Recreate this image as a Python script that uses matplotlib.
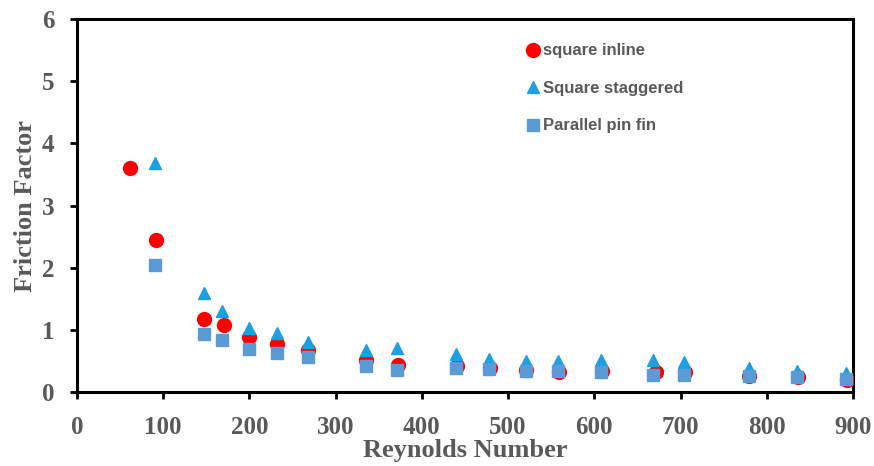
import matplotlib
matplotlib.use("Agg")
import matplotlib.pyplot as plt

# Reynolds number / friction factor
re_inline = [61, 92, 147, 170, 199, 232, 268, 335, 372, 441, 479, 521, 559, 609, 671, 705, 779, 836, 893]
f_inline = [3.60, 2.45, 1.17, 1.07, 0.89, 0.77, 0.67, 0.51, 0.44, 0.42, 0.38, 0.35, 0.32, 0.34, 0.32, 0.32, 0.26, 0.24, 0.19]

re_stag = [91, 147, 168, 199, 232, 268, 335, 371, 440, 478, 521, 558, 608, 668, 704, 779, 835, 892]
f_stag = [3.68, 1.59, 1.31, 1.03, 0.95, 0.80, 0.67, 0.70, 0.61, 0.53, 0.50, 0.50, 0.51, 0.51, 0.48, 0.38, 0.34, 0.30]

re_par = [91, 147, 168, 199, 232, 268, 335, 371, 440, 478, 521, 558, 608, 668, 704, 779, 835, 892]
f_par = [2.05, 0.94, 0.83, 0.69, 0.62, 0.56, 0.42, 0.36, 0.38, 0.37, 0.34, 0.34, 0.32, 0.27, 0.28, 0.26, 0.24, 0.21]

grey = '#595959'

fig = plt.figure(figsize=(8.74, 4.66), dpi=100)
ax = fig.add_axes([0.088, 0.159, 0.888, 0.80])

ax.plot(re_inline, f_inline, 'o', color='#ff0000', markersize=10, label='square inline', zorder=3)
ax.plot(re_stag, f_stag, '^', color='#1c9fe3', markersize=9, label='Square staggered', zorder=3)
ax.plot(re_par, f_par, 's', color='#5b9bd5', markersize=8, label='Parallel pin fin', zorder=4)

ax.set_xlim(0, 900)
ax.set_ylim(0, 6)
ax.set_xticks(range(0, 1000, 100))
ax.set_yticks(range(0, 7))

for s in ax.spines.values():
    s.set_linewidth(2.2)
    s.set_color('black')

ax.tick_params(direction='out', length=5, width=2, colors='black', labelcolor=grey)
ax.tick_params(axis='x', pad=12)
ax.tick_params(axis='y', pad=11)
for lbl in ax.get_xticklabels() + ax.get_yticklabels():
    lbl.set_family('Liberation Serif')
    lbl.set_fontweight('bold')
    lbl.set_fontsize(18)

ax.set_xlabel('Reynolds Number', family='Liberation Serif', fontweight='bold',
              fontsize=19, color=grey, labelpad=0)
ax.set_ylabel('Friction Factor', family='Liberation Serif', fontweight='bold',
              fontsize=19, color=grey, labelpad=4)

leg = ax.legend(loc='upper left', bbox_to_anchor=(0.555, 0.975), frameon=False,
                handletextpad=0.0, labelspacing=1.35, handlelength=1.2,
                prop={'family': 'Liberation Sans', 'weight': 'bold', 'size': 12})
for t in leg.get_texts():
    t.set_color(grey)

fig.savefig('out.png', dpi=100)
